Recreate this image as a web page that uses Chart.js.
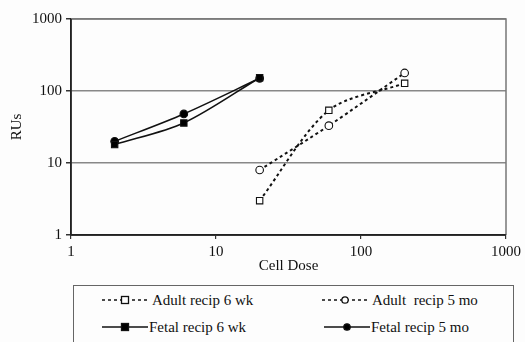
<!DOCTYPE html>
<html>
<head>
<meta charset="utf-8">
<script src="https://cdn.jsdelivr.net/npm/chart.js@4/dist/chart.umd.min.js"></script>
<style>
  html, body { margin: 0; padding: 0; background: #fdfdfd; }
  #wrap { position: relative; width: 525px; height: 342px; overflow: hidden; }
  #chartBox { position: absolute; left: 0; top: 0; width: 525px; height: 285px; }
  #legend { position: absolute; left: 73px; top: 285px; width: 441px; height: 70px;
    border: 1.5px solid #666; box-sizing: border-box; background: #fdfdfd;
    font-family: "Liberation Serif", "Times New Roman", serif; font-size: 15px; color: #111; }
  .item { position: absolute; display: flex; align-items: center; white-space: pre; }
  .item svg { display: block; }
</style>
</head>
<body>
<div id="wrap">
  <div id="chartBox"><canvas id="c"></canvas></div>
  <div id="legend"></div>
</div>
<script>
// ---- data ----
const seriesLabels = ['Adult recip 6 wk', 'Adult  recip 5 mo', 'Fetal recip 6 wk', 'Fetal recip 5 mo'];
const adultDoses = [20, 60, 200];
const fetalDoses = [2, 6, 20];
const adult6wk = [3.0, 54, 128];
const adult5mo = [8, 33, 178];
const fetal6wk = [18, 36, 153];
const fetal5mo = [20, 48, 150];
const xTicks = [1, 10, 100, 1000];
const yTicks = [1, 10, 100, 1000];

const toPts = (xs, ys) => xs.map((x, i) => ({ x: x, y: ys[i] }));
const FONT = '"Liberation Serif", "Times New Roman", serif';

const defs = [
  { label: seriesLabels[0], data: toPts(adultDoses, adult6wk), dash: [3, 3], pointStyle: 'rect', fill: '#ffffff', r: 4.5 },
  { label: seriesLabels[1], data: toPts(adultDoses, adult5mo), dash: [3, 3], pointStyle: 'circle', fill: '#ffffff', r: 3.8 },
  { label: seriesLabels[2], data: toPts(fetalDoses, fetal6wk), dash: [], pointStyle: 'rect', fill: '#000000', r: 4.5 },
  { label: seriesLabels[3], data: toPts(fetalDoses, fetal5mo), dash: [], pointStyle: 'circle', fill: '#000000', r: 3.8 }
];

const datasets = defs.map(d => ({
  label: d.label,
  data: d.data,
  borderColor: '#111',
  borderWidth: d.dash.length ? 2 : 1.6,
  borderDash: d.dash,
  tension: 0.3,
  pointStyle: d.pointStyle,
  pointRadius: d.r,
  pointBackgroundColor: d.fill,
  pointBorderColor: '#111',
  pointBorderWidth: 1.1,
  fill: false
}));

const frame = {
  id: 'frame',
  beforeDatasetsDraw(chart) {
    const a = chart.chartArea, ctx = chart.ctx;
    ctx.save();
    ctx.strokeStyle = '#777';
    ctx.lineWidth = 1.5;
    ctx.beginPath();
    ctx.moveTo(a.left, a.top); ctx.lineTo(a.right, a.top); ctx.lineTo(a.right, a.bottom);
    ctx.stroke();
    ctx.strokeStyle = '#222';
    ctx.beginPath();
    ctx.moveTo(a.left, a.top); ctx.lineTo(a.left, a.bottom); ctx.lineTo(a.right, a.bottom);
    ctx.stroke();
    ctx.restore();
  }
};

new Chart(document.getElementById('c'), {
  type: 'line',
  data: { datasets: datasets },
  options: {
    responsive: true,
    maintainAspectRatio: false,
    animation: false,
    layout: { padding: { top: 19, right: 18, left: 0, bottom: 0 } },
    plugins: { legend: { display: false }, tooltip: { enabled: false } },
    scales: {
      x: {
        type: 'logarithmic', min: 1, max: 1000,
        afterBuildTicks: s => { s.ticks = xTicks.map(v => ({ value: v })); },
        afterFit: s => { s.height = 50; },
        grid: { drawOnChartArea: false, drawTicks: true, tickLength: 4, color: '#333', lineWidth: 1.2 },
        border: { display: true, color: '#222', width: 1.5 },
        ticks: { color: '#111', font: { family: FONT, size: 15 }, padding: 4, maxRotation: 0,
          callback: v => String(v) },
        title: { display: true, text: 'Cell Dose', color: '#111', font: { family: FONT, size: 15 }, padding: { top: 0, bottom: 10 } }
      },
      y: {
        type: 'logarithmic', min: 1, max: 1000,
        afterBuildTicks: s => { s.ticks = yTicks.map(v => ({ value: v })); },
        afterFit: s => { s.width = 71; },
        grid: { color: '#888', lineWidth: 1.5, drawTicks: true, tickLength: 5, tickColor: '#333' },
        border: { display: true, color: '#222', width: 1.5 },
        ticks: { color: '#111', font: { family: FONT, size: 15 }, padding: 4, callback: v => String(v) },
        title: { display: true, text: 'RUs', color: '#111', font: { family: FONT, size: 15 }, padding: { top: 8, bottom: 0 } }
      }
    }
  },
  plugins: [frame]
});

// ---- HTML legend built from the dataset definitions ----
const legend = document.getElementById('legend');
const pos = [
  { left: 28, top: 5 }, { left: 248, top: 5 },
  { left: 28, top: 32 }, { left: 250, top: 32 }
];
defs.forEach((d, i) => {
  const el = document.createElement('div');
  el.className = 'item';
  el.style.left = pos[i].left + 'px';
  el.style.top = pos[i].top + 'px';
  const dashed = d.dash.length > 0;
  const w = 46;
  let marker = d.pointStyle === 'rect'
    ? `<rect x="${w/2-3.5}" y="${9-3.5}" width="7" height="7" fill="${d.fill}" stroke="#111" stroke-width="1.3"/>`
    : `<circle cx="${w/2}" cy="9" r="3.2" fill="${d.fill}" stroke="#111" stroke-width="1.3"/>`;
  el.innerHTML = `<svg width="${w}" height="18"><line x1="0" y1="9" x2="${w}" y2="9" stroke="#111" stroke-width="${dashed ? 1.6 : 1.4}" ${dashed ? 'stroke-dasharray="3,3"' : ''}/>${marker}</svg><span style="margin-left:${dashed ? 4 : 1}px">${d.label}</span>`;
  legend.appendChild(el);
});
</script>
</body>
</html>
